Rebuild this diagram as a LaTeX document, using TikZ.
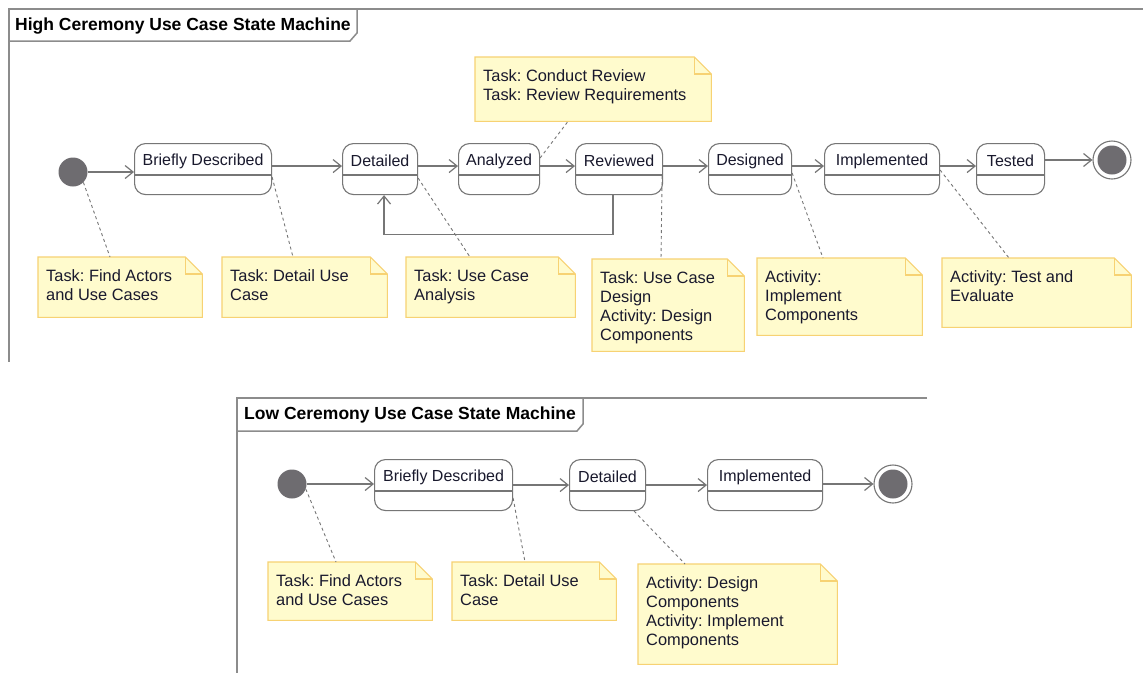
\documentclass[tikz,border=0pt]{standalone}
\usepackage{fontspec}
\setmainfont{Liberation Sans}
\usetikzlibrary{arrows.meta,calc}
\frenchspacing
\definecolor{notefill}{RGB}{255,251,205}
\definecolor{noteedge}{RGB}{247,210,115}
\definecolor{lineg}{RGB}{118,118,118}
\definecolor{dotfill}{RGB}{110,108,112}
\definecolor{framec}{RGB}{140,140,140}
\definecolor{txt}{RGB}{25,25,45}
\tikzset{
  statebox/.style={draw=lineg, line width=1.1pt, rounded corners=11pt, fill=white, inner sep=0pt},
  divider/.style={draw=lineg, line width=1.1pt},
  statetext/.style={inner sep=0pt, text=txt, font=\fontsize{16}{19}\selectfont},
  notetext/.style={inner sep=0pt, text=txt, align=left, font=\fontsize{16.4}{19}\selectfont},
  noteshape/.style={draw=noteedge, fill=notefill, line width=1.1pt, line join=miter},
  notefold/.style={draw=noteedge, line width=1.1pt},
  arr/.style={draw=lineg, line width=1.2pt, -{Straight Barb[length=8pt,width=13pt,line width=1.2pt]}},
  link/.style={draw=lineg, line width=0.9pt, dash pattern=on 3pt off 3pt},
  initial/.style={circle, fill=dotfill, minimum size=29pt, inner sep=0pt},
  finalo/.style={circle, draw=lineg, line width=1.1pt, fill=white, minimum size=38pt, inner sep=0pt},
  finali/.style={circle, fill=dotfill, minimum size=29pt, inner sep=0pt},
  framel/.style={draw=framec, line width=1.5pt},
  frametitle/.style={inner sep=0pt, text=black, font=\fontsize{17.5}{20}\selectfont\bfseries},
}
% name, x, y, w, h, text
\newcommand\umlstate[6]{%
  \node[statebox, anchor=north west, minimum width=#4pt, minimum height=#5pt] (#1) at (#2,#3) {};
  \draw[divider] ([yshift=-32pt]#1.north west) -- ([yshift=-32pt]#1.north east);
  \node[statetext] (#1-t) at ([yshift=-18pt]#1.north) {#6};
}
% name, x, y, w, h, text
\newcommand\umlnote[6]{%
  \node[anchor=north west, minimum width=#4pt, minimum height=#5pt, inner sep=0pt] (#1) at (#2,#3) {};
  \filldraw[noteshape] (#1.north west) -- ([xshift=-17pt]#1.north east) -- ([yshift=-17pt]#1.north east) -- (#1.south east) -- (#1.south west) -- cycle;
  \draw[notefold] ([xshift=-17pt]#1.north east) |- ([yshift=-17pt]#1.north east);
  \node[notetext, anchor=north west] (#1-t) at ([xshift=8pt,yshift=-12pt]#1.north west) {#6};
}
\begin{document}
\begin{tikzpicture}[x=1pt,y=-1pt]
\useasboundingbox (0,0) rectangle (1143,673);
\fill[white] (0,0) rectangle (1143,673);

% ---------- High ceremony frame ----------
\draw[framel] (1143,9) -- (9,9) -- (9,362);
\draw[framel] (9,41) -- (350,41) -- (357,33) -- (357,9);
\node[frametitle, anchor=west] (t1) at (15,26) {High Ceremony Use Case State Machine};

\node[initial] (i1) at (73,172) {};
\umlstate{bd}{134}{143}{137}{51}{Briefly Described}
\umlstate{det}{342}{143}{75}{51}{Detailed}
\umlstate{ana}{458}{143}{81}{51}{Analyzed}
\umlstate{rev}{575}{143}{87}{51}{Reviewed}
\umlstate{des}{708}{143}{83}{51}{Designed}
\umlstate{imp}{824}{143}{115}{51}{Implemented}
\umlstate{tst}{976}{143}{68}{51}{Tested}
\node[finalo] (f1) at (1112,160) {};
\node[finali] (f1i) at (f1) {};

\draw[arr] (i1.east) -- (i1.east -| bd.west);
\draw[arr] ([yshift=3pt]bd.east) -- ([yshift=3pt]det.west);
\draw[arr] ([yshift=3pt]det.east) -- ([yshift=3pt]ana.west);
\draw[arr] ([yshift=3pt]ana.east) -- ([yshift=3pt]rev.west);
\draw[arr] ([yshift=3pt]rev.east) -- ([yshift=3pt]des.west);
\draw[arr] ([yshift=3pt]des.east) -- ([yshift=3pt]imp.west);
\draw[arr] ([yshift=3pt]imp.east) -- ([yshift=3pt]tst.west);
\draw[arr] (f1 -| tst.east) -- (f1.west);
\draw[arr] ([xshift=-6pt]rev.south) -- ++(0,39) -| ([xshift=4pt]det.south);

\umlnote{nr}{475}{57}{236}{64}{Task: Conduct Review\\Task: Review Requirements}
\umlnote{n1}{38}{257}{164}{60}{Task: Find Actors\\and Use Cases}
\umlnote{n2}{222}{257}{165}{60}{Task: Detail Use\\Case}
\umlnote{n3}{406}{257}{169}{60}{Task: Use Case\\Analysis}
\umlnote{n4}{592}{259}{152}{92}{Task: Use Case\\Design\\Activity: Design\\Components}
\umlnote{n5}{757}{258}{165}{77}{Activity:\\Implement\\Components}
\umlnote{n6}{942}{258}{189}{69}{Activity: Test and\\Evaluate}

\draw[link] (i1.south east) -- ([xshift=72pt]n1.north west);
\draw[link] ([yshift=-34pt]bd.north east) -- ([xshift=71pt]n2.north west);
\draw[link] ([yshift=-35pt]det.north east) -- ([xshift=64pt]n3.north west);
\draw[link] ([yshift=-15pt]ana.north east) -- ([xshift=93pt]nr.south west);
\draw[link] ([xshift=-1pt,yshift=-33pt]rev.north east) -- ([xshift=69pt]n4.north west);
\draw[link] ([yshift=-30pt]des.north east) -- ([xshift=66pt]n5.north west);
\draw[link] ([yshift=-27pt]imp.north east) -- ([xshift=67pt]n6.north west);

% ---------- Low ceremony frame ----------
\draw[framel] (927,398) -- (237,398) -- (237,673);
\draw[framel] (237,431) -- (577,431) -- (583,424) -- (583,398);
\node[frametitle, anchor=west] (t2) at (244,415) {Low Ceremony Use Case State Machine};

\node[initial] (i2) at (292,484) {};
\umlstate{bbd}{374}{459}{138}{51}{Briefly Described}
\umlstate{bdet}{569}{459}{76}{51}{Detailed}
\umlstate{bimp}{707}{459}{115}{51}{Implemented}
\node[finalo] (f2) at (893,484) {};
\node[finali] (f2i) at (f2) {};

\draw[arr] (i2.east) -- (i2.east -| bbd.west);
\draw[arr] (bbd.east) -- (bdet.west);
\draw[arr] (bdet.east) -- (bimp.west);
\draw[arr] (f2 -| bimp.east) -- (f2.west);

\umlnote{bn1}{268}{562}{164}{58}{Task: Find Actors\\and Use Cases}
\umlnote{bn2}{452}{562}{164}{58}{Task: Detail Use\\Case}
\umlnote{bn3}{638}{564}{199}{100}{Activity: Design\\Components\\Activity: Implement\\Components}

\draw[link] (i2.-20) -- ([xshift=68pt]bn1.north west);
\draw[link] ([yshift=-39pt]bbd.north east) -- ([xshift=73pt]bn2.north west);
\draw[link] ([xshift=-12pt]bdet.south east) -- ([xshift=47pt]bn3.north west);
\end{tikzpicture}
\end{document}
